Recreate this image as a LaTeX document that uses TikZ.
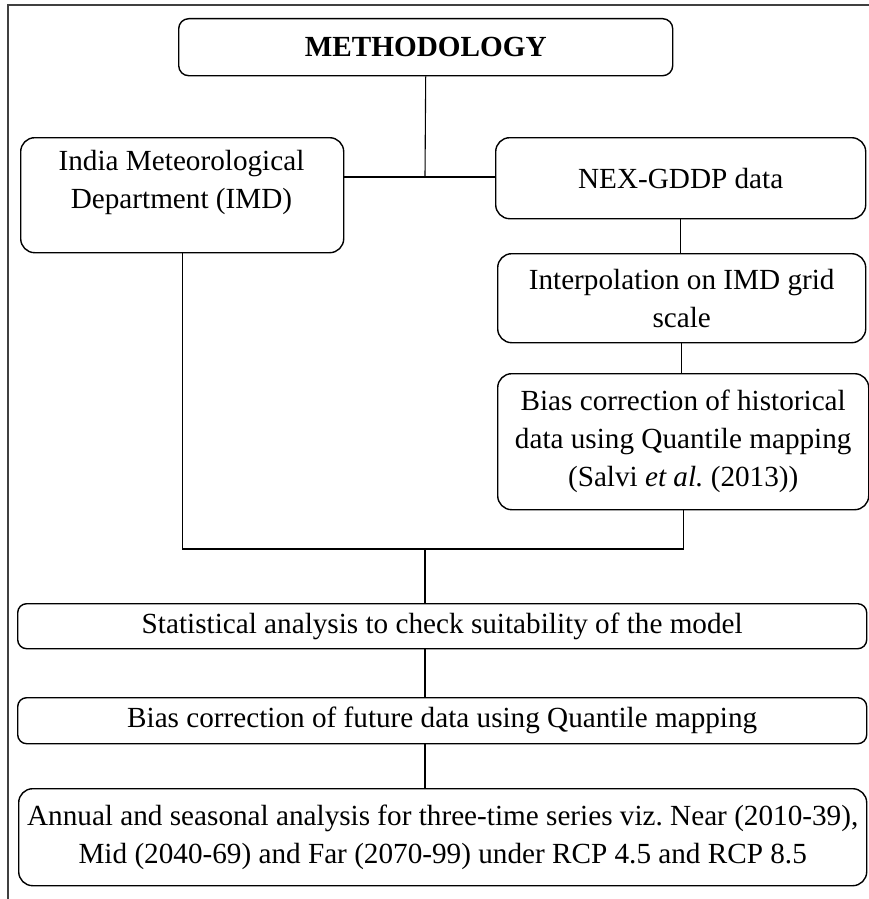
\documentclass[tikz,border=0pt]{standalone}
\usepackage{fontspec}
\setmainfont{Liberation Serif}
\frenchspacing
\begin{document}
\begin{tikzpicture}[x=1pt,y=-1pt]
\tikzset{
  box/.style={draw=black, line width=1.4pt, rounded corners=14pt, inner sep=0pt, align=center,
    anchor=north west, font=\fontsize{29.2}{38}\selectfont},
  txt/.style={inner sep=0pt, align=center, font=\fontsize{29.2}{38}\selectfont},
  conn/.style={draw=black, line width=1.1pt},
  framec/.style={draw=black!75, line width=1.2pt}
}
\useasboundingbox (0,0) rectangle (869,899);
% outer frame (top and left only)
\draw[framec] (8,899) -- (8,5) -- (869,5);

% boxes
\node[box, rounded corners=10pt, minimum width=494, minimum height=57] (meth) at (178,18) {\textbf{METHODOLOGY}};
\node[box, minimum width=323, minimum height=115] (imd) at (20,137) {};
\node[txt] (imdtext) at (181.5,182) {India Meteorological\\Department (IMD)};
\node[box, minimum width=370, minimum height=81] (nex) at (495,137) {NEX-GDDP data};
\node[box, minimum width=368, minimum height=89] (interp) at (497,253) {Interpolation on IMD grid\\scale};
\node[box, minimum width=371, minimum height=136] (bh) at (497,373) {Bias correction of historical\\data using Quantile mapping\\(Salvi \textit{et al.} (2013))};
\node[box, rounded corners=9pt, minimum width=849, minimum height=45] (stat) at (17,603) {Statistical analysis to check suitability of the model};
\node[box, rounded corners=9pt, minimum width=849, minimum height=46] (bf) at (17,697) {Bias correction of future data using Quantile mapping};
\node[box, minimum width=848, minimum height=97] (fin) at (18,788) {Annual and seasonal analysis for three-time series viz. Near (2010-39),\\Mid (2040-69) and Far (2070-99) under RCP 4.5 and RCP 8.5};

% connectors
\coordinate (j1) at (425,177);
\coordinate (j2) at (425,549);
\draw[conn] (meth.south) -- (j1);
\draw[conn] (imd.east |- j1) -- (nex.west |- j1);
\draw[conn] (nex.south) -- (nex.south |- interp.north);
\draw[conn] (interp.south) -- (interp.south |- bh.north);
\draw[conn] (bh.south) -- (bh.south |- j2) -- (imd.south |- j2) -- (imd.south);
\draw[conn] (j2) -- (j2 |- stat.north);
\draw[conn] (j2 |- stat.south) -- (j2 |- bf.north);
\draw[conn] (j2 |- bf.south) -- (j2 |- fin.north);
\end{tikzpicture}
\end{document}
